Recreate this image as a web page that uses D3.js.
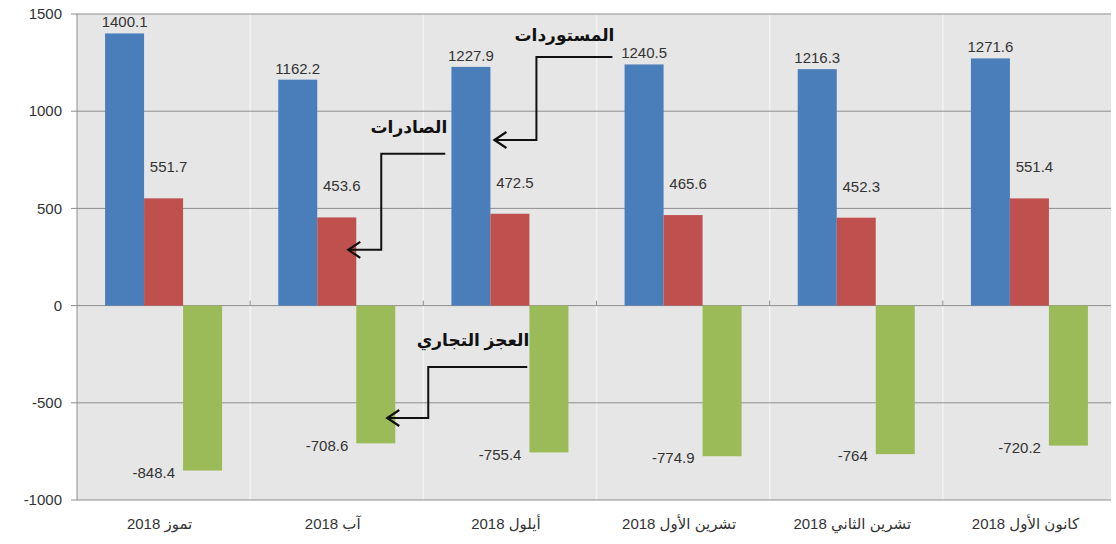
<!DOCTYPE html>
<html>
<head>
<meta charset="utf-8">
<script src="https://cdn.jsdelivr.net/npm/d3@7/dist/d3.min.js"></script>
<style>
  body { margin: 0; background: #fff; }
  svg { display: block; }
  text { font-family: "Liberation Sans", "DejaVu Sans", sans-serif; }
</style>
</head>
<body>
<svg id="chart" width="1116" height="544"></svg>
<script>
// months (Jul - Dec 2018)
var months = ["تموز 2018", "آب  2018", "أيلول 2018", "تشرين الأول 2018", "تشرين الثاني 2018", "كانون الأول 2018"];
var series = ["imports", "exports", "deficit"];
var imports = [1400.1, 1162.2, 1227.9, 1240.5, 1216.3, 1271.6];
var exports = [551.7, 453.6, 472.5, 465.6, 452.3, 551.4];
var deficit = [-848.4, -708.6, -755.4, -774.9, -764, -720.2];
var yTicks = [-1000, -500, 0, 500, 1000, 1500];

// callouts: label, month index, series, value the arrow points at
var callouts = [
  {label: "المستوردات", month: 2, key: "imports", value: 852},
  {label: "الصادرات", month: 1, key: "exports", value: 287},
  {label: "العجز التجاري", month: 1, key: "deficit", value: -578}
];

var colors = {imports: "#4a7ebb", exports: "#c0504d", deficit: "#9bbb59"};
var values = {imports: imports, exports: exports, deficit: deficit};

var plotLeft = 77, plotRight = 1116, plotTop = 14, plotBottom = 500;
var svg = d3.select("#chart");

var x0 = d3.scaleBand().domain(d3.range(months.length)).range([plotLeft, plotRight]);
var x1 = d3.scaleBand().domain(series).range([0, x0.bandwidth()]).paddingOuter(0.72);
var y = d3.scaleLinear().domain([-1000, 1500]).range([plotBottom, plotTop]);

// plot area
svg.append("rect")
  .attr("x", plotLeft).attr("y", plotTop)
  .attr("width", 1111 - plotLeft).attr("height", plotBottom - plotTop)
  .attr("fill", "#e6e6e6");

// faint category separators
svg.selectAll(".sep")
  .data(d3.range(1, months.length))
  .enter().append("line")
  .attr("x1", i => x0(i)).attr("x2", i => x0(i))
  .attr("y1", plotTop).attr("y2", plotBottom)
  .attr("stroke", "#f3f3f3").attr("stroke-width", 1.5);

// gridlines
svg.selectAll(".grid")
  .data(yTicks)
  .enter().append("line")
  .attr("x1", plotLeft - 6).attr("x2", 1111)
  .attr("y1", d => y(d)).attr("y2", d => y(d))
  .attr("stroke", "#8e8e8e").attr("stroke-width", 1);

svg.append("line")
  .attr("x1", plotLeft).attr("x2", plotLeft)
  .attr("y1", plotTop).attr("y2", plotBottom)
  .attr("stroke", "#8e8e8e");

// small ticks on zero line
svg.selectAll(".xtick")
  .data(d3.range(1, months.length))
  .enter().append("line")
  .attr("x1", i => x0(i)).attr("x2", i => x0(i))
  .attr("y1", y(0)).attr("y2", y(0) - 5)
  .attr("stroke", "#8e8e8e");

// y labels
svg.selectAll(".ylab")
  .data(yTicks)
  .enter().append("text")
  .attr("x", 62).attr("y", d => y(d))
  .attr("dy", "0.35em")
  .attr("text-anchor", "end")
  .attr("font-size", 15)
  .attr("fill", "#333")
  .text(d => d);

// bars
series.forEach(function(key) {
  svg.selectAll(".bar-" + key)
    .data(values[key])
    .enter().append("rect")
    .attr("x", (d, i) => x0(i) + x1(key))
    .attr("width", x1.bandwidth())
    .attr("y", d => y(Math.max(0, d)))
    .attr("height", d => Math.abs(y(d) - y(0)))
    .attr("fill", colors[key]);
});

// value labels
svg.selectAll(".lab-imp")
  .data(imports)
  .enter().append("text")
  .attr("x", (d, i) => x0(i) + x1("imports") + x1.bandwidth() / 2)
  .attr("y", d => y(d) - 6)
  .attr("text-anchor", "middle")
  .attr("font-size", 15).attr("fill", "#333")
  .text(d => d);

svg.selectAll(".lab-exp")
  .data(exports)
  .enter().append("text")
  .attr("x", (d, i) => x0(i) + x1("exports") + x1.bandwidth() / 2 + 5)
  .attr("y", d => y(d) - 26)
  .attr("text-anchor", "middle")
  .attr("font-size", 15).attr("fill", "#333")
  .text(d => d);

svg.selectAll(".lab-def")
  .data(deficit)
  .enter().append("text")
  .attr("x", (d, i) => x0(i) + x1("deficit") - 8)
  .attr("y", d => y(d) + 2)
  .attr("dy", "0.35em")
  .attr("text-anchor", "end")
  .attr("font-size", 15).attr("fill", "#333")
  .text(d => d);

// x labels
svg.selectAll(".xlab")
  .data(months)
  .enter().append("text")
  .attr("x", (d, i) => x0(i) + x0.bandwidth() / 2 - 4)
  .attr("y", 524)
  .attr("dy", "0.35em")
  .attr("text-anchor", "middle")
  .attr("direction", "rtl")
  .attr("font-size", 15).attr("fill", "#333")
  .text(d => d);

// callouts with elbow arrows
var line = d3.line();
callouts.forEach(function(c, k) {
  var tipX = x0(c.month) + x1(c.key) + x1.bandwidth() + (k == 0 ? 4 : -8);
  var tipY = y(c.value);
  var elbowX = tipX + (k == 0 ? 42 : k == 1 ? 33 : 41);
  var startY = tipY - (k == 0 ? 83 : k == 1 ? 96 : 51);
  var startX = elbowX + (k == 0 ? 76 : k == 1 ? 64 : 99);
  svg.append("path")
    .attr("d", line([[startX, startY], [elbowX, startY], [elbowX, tipY], [tipX, tipY]]))
    .attr("fill", "none").attr("stroke", "#111").attr("stroke-width", 2);
  svg.append("path")
    .attr("d", line([[tipX + 12, tipY - 8], [tipX, tipY], [tipX + 12, tipY + 8]]))
    .attr("fill", "none").attr("stroke", "#111").attr("stroke-width", 2.2);
  svg.append("text")
    .attr("x", startX + 2)
    .attr("y", startY - (k == 0 ? 16 : 21))
    .attr("text-anchor", "end")
    .attr("font-family", "DejaVu Sans")
    .attr("font-weight", "bold")
    .attr("font-size", 17).attr("fill", "#111")
    .text(c.label);
});
</script>
</body>
</html>
